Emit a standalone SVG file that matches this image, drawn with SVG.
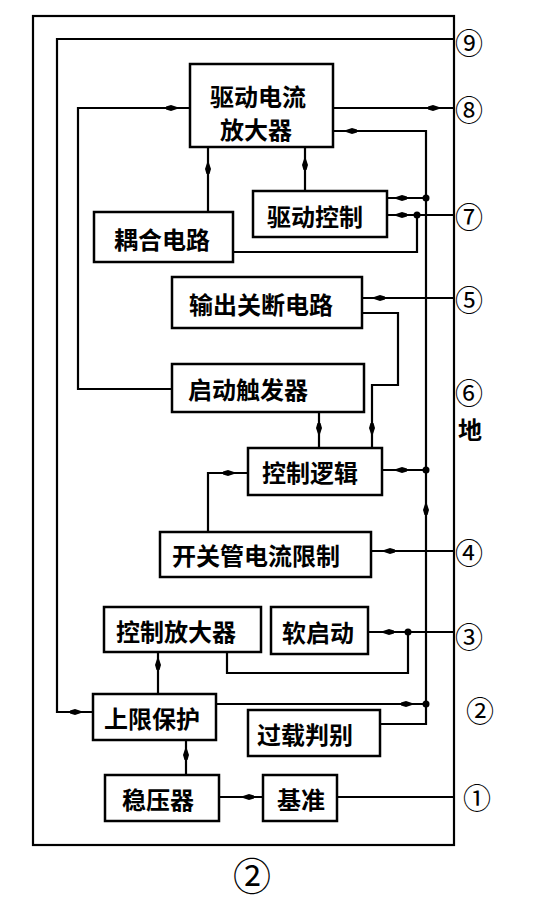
<svg xmlns="http://www.w3.org/2000/svg" width="536" height="917" viewBox="0 0 536 917">
<style>
.box{fill:#fff;stroke:#000;stroke-width:2.5}
.w{fill:none;stroke:#000;stroke-width:2.2;stroke-linejoin:miter}
.t{font-family:"Noto Sans CJK SC","Noto Sans CJK JP",sans-serif;font-weight:700;font-size:24px;fill:#000;text-anchor:middle;dominant-baseline:central}
.p{font-family:"Noto Sans CJK SC","Noto Sans CJK JP",sans-serif;font-weight:400;font-size:28px;fill:#000;text-anchor:middle;dominant-baseline:central}
.dot{fill:#000}
</style>
<defs>
<path id="ah" d="M7,0 L-2,-3 L-7,-1.5 L-7,1.5 L-2,3 Z" fill="#000"/>
</defs>
<rect x="33" y="16" width="421" height="829" class="w"/>
<g id="connectors">
<polyline class="w" points="454,39 57,39 57,712 93,712"/>
<polyline class="w" points="190,108 78,108 78,389 172,389"/>
<line class="w" x1="333" y1="108" x2="454" y2="108"/>
<polyline class="w" points="333,131 426,131 426,724 380,724"/>
<line class="w" x1="208" y1="147" x2="208" y2="212"/>
<line class="w" x1="305" y1="147" x2="305" y2="191"/>
<line class="w" x1="387" y1="198" x2="426" y2="198"/>
<line class="w" x1="387" y1="215" x2="454" y2="215"/>
<polyline class="w" points="233,252 417,252 417,215"/>
<line class="w" x1="362" y1="298" x2="454" y2="298"/>
<polyline class="w" points="362,313 398,313 398,385 372,385 372,448"/>
<line class="w" x1="319" y1="412" x2="319" y2="448"/>
<line class="w" x1="382" y1="470" x2="426" y2="470"/>
<polyline class="w" points="248,473 208,473 208,532"/>
<line class="w" x1="371" y1="551" x2="454" y2="551"/>
<line class="w" x1="368" y1="632" x2="454" y2="632"/>
<polyline class="w" points="227,652 227,673 408,673 408,632"/>
<line class="w" x1="158" y1="652" x2="158" y2="694"/>
<line class="w" x1="216" y1="704" x2="426" y2="704"/>
<line class="w" x1="186" y1="740" x2="186" y2="775"/>
<line class="w" x1="219" y1="797" x2="263" y2="797"/>
<line class="w" x1="337" y1="797" x2="454" y2="797"/>
<circle class="dot" cx="426" cy="198" r="3.5"/>
<circle class="dot" cx="417" cy="215" r="3.5"/>
<circle class="dot" cx="426" cy="470" r="3.5"/>
<circle class="dot" cx="408" cy="632" r="3.5"/>
<circle class="dot" cx="426" cy="704" r="3.5"/>
<use href="#ah" transform="translate(173,108)"/>
<use href="#ah" transform="translate(435,108)"/>
<use href="#ah" transform="translate(350,131) rotate(180)"/>
<use href="#ah" transform="translate(208,167) rotate(-90)"/>
<use href="#ah" transform="translate(305,163) rotate(-90)"/>
<use href="#ah" transform="translate(400,198) rotate(180)"/>
<use href="#ah" transform="translate(400,215) rotate(180)"/>
<use href="#ah" transform="translate(378,298) rotate(180)"/>
<use href="#ah" transform="translate(319,430) rotate(90)"/>
<use href="#ah" transform="translate(372,430) rotate(90)"/>
<use href="#ah" transform="translate(400,470) rotate(180)"/>
<use href="#ah" transform="translate(230,473)"/>
<use href="#ah" transform="translate(426,508) rotate(-90)"/>
<use href="#ah" transform="translate(388,551) rotate(180)"/>
<use href="#ah" transform="translate(387,632) rotate(180)"/>
<use href="#ah" transform="translate(158,663) rotate(-90)"/>
<use href="#ah" transform="translate(77,712)"/>
<use href="#ah" transform="translate(408,704)"/>
<use href="#ah" transform="translate(186,753) rotate(-90)"/>
<use href="#ah" transform="translate(247,797) rotate(180)"/>
</g>
<g id="n-drive-amp"><rect class="box" x="190" y="64" width="143" height="83"/><text class="t" x="258" y="95">驱动电流</text><text class="t" x="256" y="128">放大器</text></g>
<g id="n-drive-ctrl"><rect class="box" x="253" y="191" width="134" height="46"/><text class="t" x="315" y="215">驱动控制</text></g>
<g id="n-coupling"><rect class="box" x="94" y="212" width="139" height="50"/><text class="t" x="162" y="238">耦合电路</text></g>
<g id="n-shutdown"><rect class="box" x="172" y="277" width="190" height="51"/><text class="t" x="261" y="303">输出关断电路</text></g>
<g id="n-trigger"><rect class="box" x="172" y="364" width="192" height="48"/><text class="t" x="248" y="388">启动触发器</text></g>
<g id="n-logic"><rect class="box" x="248" y="448" width="134" height="47"/><text class="t" x="310" y="471">控制逻辑</text></g>
<g id="n-current-limit"><rect class="box" x="160" y="532" width="211" height="45"/><text class="t" x="256" y="554">开关管电流限制</text></g>
<g id="n-ctrl-amp"><rect class="box" x="104" y="607" width="157" height="45"/><text class="t" x="176" y="630">控制放大器</text></g>
<g id="n-softstart"><rect class="box" x="271" y="607" width="97" height="47"/><text class="t" x="318" y="631">软启动</text></g>
<g id="n-upper-limit"><rect class="box" x="93" y="694" width="123" height="46"/><text class="t" x="152" y="717">上限保护</text></g>
<g id="n-overload"><rect class="box" x="248" y="710" width="132" height="46"/><text class="t" x="305" y="733">过载判别</text></g>
<g id="n-regulator"><rect class="box" x="105" y="775" width="114" height="46"/><text class="t" x="158" y="798">稳压器</text></g>
<g id="n-reference"><rect class="box" x="263" y="775" width="74" height="46"/><text class="t" x="301" y="798">基准</text></g>
<g id="pins">
<text class="p" x="469" y="42">⑨</text>
<text class="p" x="469" y="109">⑧</text>
<text class="p" x="469" y="216">⑦</text>
<text class="p" x="469" y="299">⑤</text>
<text class="p" x="469" y="392">⑥</text>
<text class="t" x="470" y="428">地</text>
<text class="p" x="469" y="552">④</text>
<text class="p" x="469" y="636">③</text>
<text class="p" x="480" y="710">②</text>
<text class="p" x="477" y="797">①</text>
<text class="p" x="252" y="873" style="font-size:38px">②</text>
</g>
</svg>
